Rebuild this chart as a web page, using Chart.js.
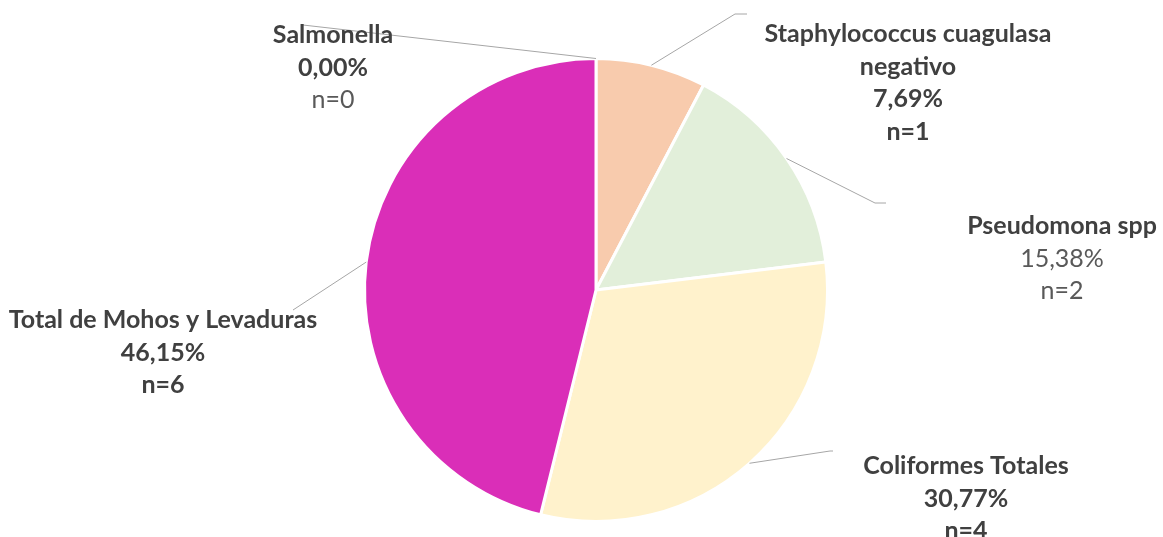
<!DOCTYPE html>
<html>
<head>
<meta charset="utf-8">
<script src="https://cdn.jsdelivr.net/npm/chart.js@4/dist/chart.umd.min.js"></script>
<style>
html,body{margin:0;padding:0;background:#fff;}
#wrap{width:1163px;height:537px;position:relative;}
</style>
</head>
<body>
<div id="wrap"><canvas id="c" width="1163" height="537"></canvas></div>
<script>
const categories = ["Salmonella", "Staphylococcus cuagulasa negativo", "Pseudomona spp", "Coliformes Totales", "Total de Mohos y Levaduras"];
const counts = [0, 1, 2, 4, 6];
const percentLabels = ["0,00%", "7,69%", "15,38%", "30,77%", "46,15%"];
const countLabels = ["n=0", "n=1", "n=2", "n=4", "n=6"];
const colors = ["#4472C4", "#F8CBAD", "#E2EFDA", "#FFF2CC", "#DA2EB8"];

// label layout (presentation only)
const labelLayout = [
  {lines:[["Salmonella",true]], pct:true, n:false, x:333, y:35, path:[[303,25]]},
  {lines:[["Staphylococcus cuagulasa",true],["negativo",true]], pct:true, n:true, x:908, y:34, path:[[735,14],[747,14]]},
  {lines:[["Pseudomona spp",true]], pct:false, n:false, x:1062, y:226, path:[[875,203],[886,203]]},
  {lines:[["Coliformes Totales",true]], pct:true, n:true, x:966, y:466, path:[[830,451],[833,451]]},
  {lines:[["Total de Mohos y Levaduras",true]], pct:true, n:true, x:163, y:320, path:[[293,310]]}
];

const labelPlugin = {
  id: 'leaderLabels',
  afterDatasetsDraw(chart) {
    const ctx = chart.ctx;
    const meta = chart.getDatasetMeta(0);
    ctx.save();
    meta.data.forEach((arc, i) => {
      const L = labelLayout[i];
      const mid = (arc.startAngle + arc.endAngle) / 2;
      const sx = arc.x + Math.cos(mid) * arc.outerRadius;
      const sy = arc.y + Math.sin(mid) * arc.outerRadius;
      ctx.strokeStyle = '#A6A6A6';
      ctx.lineWidth = 1;
      ctx.beginPath();
      ctx.moveTo(sx, sy);
      L.path.forEach(p => ctx.lineTo(p[0], p[1]));
      ctx.stroke();
    });
    meta.data.forEach((arc, i) => {
      const L = labelLayout[i];
      const rows = L.lines.slice();
      rows.push([percentLabels[i], L.pct]);
      rows.push([countLabels[i], L.n]);
      ctx.textAlign = 'center';
      ctx.textBaseline = 'middle';
      rows.forEach((r, k) => {
        ctx.font = (r[1] ? 'bold ' : '') + '25px Lato';
        ctx.fillStyle = r[1] ? '#404040' : '#595959';
        ctx.fillText(r[0], L.x, L.y + k * 32.5);
      });
    });
    ctx.restore();
  }
};

new Chart(document.getElementById('c'), {
  type: 'pie',
  data: {
    labels: categories,
    datasets: [{
      data: counts,
      backgroundColor: colors,
      borderColor: '#FFFFFF',
      borderWidth: 3,
      hoverOffset: 0
    }]
  },
  options: {
    responsive: false,
    animation: false,
    layout: { padding: { left: 363, right: 334, top: 57, bottom: 14 } },
    plugins: { legend: { display: false }, tooltip: { enabled: false } },
    events: []
  },
  plugins: [labelPlugin]
});
</script>
</body>
</html>
